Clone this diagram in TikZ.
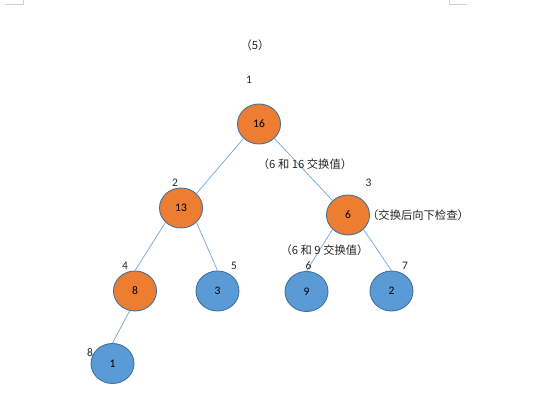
\documentclass[tikz,border=0pt]{standalone}
\usepackage{fontspec}
\setmainfont{Carlito}
\newfontfamily\cjk{Noto Sans CJK SC}
\usetikzlibrary{shapes.geometric}
\definecolor{orangefill}{HTML}{ED7D31}
\definecolor{bluefill}{HTML}{5B9BD5}
\definecolor{rimcol}{HTML}{41719C}
\definecolor{edgecol}{HTML}{7DAEDC}
\definecolor{txtcol}{HTML}{262626}
\definecolor{markcol}{HTML}{CFCFCF}
\tikzset{
  heapnode/.style={ellipse, draw=rimcol, line width=0.9pt, minimum width=43pt, minimum height=40pt, inner sep=0pt, font=\fontsize{11.5}{13}\selectfont, text=black},
  hot/.style={heapnode, fill=orangefill},
  cold/.style={heapnode, fill=bluefill},
  idx/.style={font=\fontsize{11.5}{13}\selectfont, text=txtcol, inner sep=0pt},
  note/.style={font=\cjk\fontsize{11.3}{13}\selectfont, text=txtcol, inner sep=0pt},
  link/.style={draw=edgecol, line width=0.8pt},
  cornermark/.style={draw=markcol, line width=0.8pt}
}
\begin{document}
\begin{tikzpicture}[x=1pt,y=-1pt]
\useasboundingbox (0,0) rectangle (554,411);
% page corner marks
\coordinate (tla) at (5,4);
\coordinate (tlb) at (23,4);
\coordinate (tlc) at (23,0);
\coordinate (tra) at (467,4);
\coordinate (trb) at (449,4);
\coordinate (trc) at (449,0);
\draw[cornermark] (tla) -- (tlb) -- (tlc);
\draw[cornermark] (tra) -- (trb) -- (trc);
% nodes
\node[hot]  (n16) at (259,124) {16};
\node[hot]  (n13) at (181,208) {13};
\node[hot]  (n6)  at (348,215) {6};
\node[hot]  (n8)  at (135,291) {8};
\node[cold] (n3)  at (217.5,291) {3};
\node[cold] (n9)  at (306.5,291.5) {9};
\node[cold] (n2)  at (391.5,291) {2};
\node[cold] (n1)  at (112.5,363.5) {1};
% connectors
\draw[link] (n16.south west) -- (n13.north east);
\draw[link] (n16.south east) -- (n6.north west);
\draw[link] (n13.south west) -- (n8.north);
\draw[link] (n13.south east) -- (n3.north);
\draw[link] (n6.south west) -- (n9.north);
\draw[link] (n6.south east) -- (n2.north);
\draw[link] (n8.-105) -- (n1.north);
% index labels
\node[idx] (i1) at (249,80) {1};
\node[idx] (i2) at (175,182.5) {2};
\node[idx] (i3) at (368.5,182.5) {3};
\node[idx] (i4) at (125,266) {4};
\node[idx] (i5) at (234,266) {5};
\node[idx] (i6) at (308.5,266) {6};
\node[idx] (i7) at (405,266) {7};
\node[idx] (i8) at (90,352.5) {8};
% notes
\node[note] (step) at (255,45.5) {（5）};
\node[note] (swapa) at (305,164.5) {（6 和 16 交换值）};
\node[note] (check) at (418,215) {（交换后向下检查）};
\node[note] (swapb) at (324.5,250) {（6 和 9 交换值）};
\end{tikzpicture}
\end{document}
